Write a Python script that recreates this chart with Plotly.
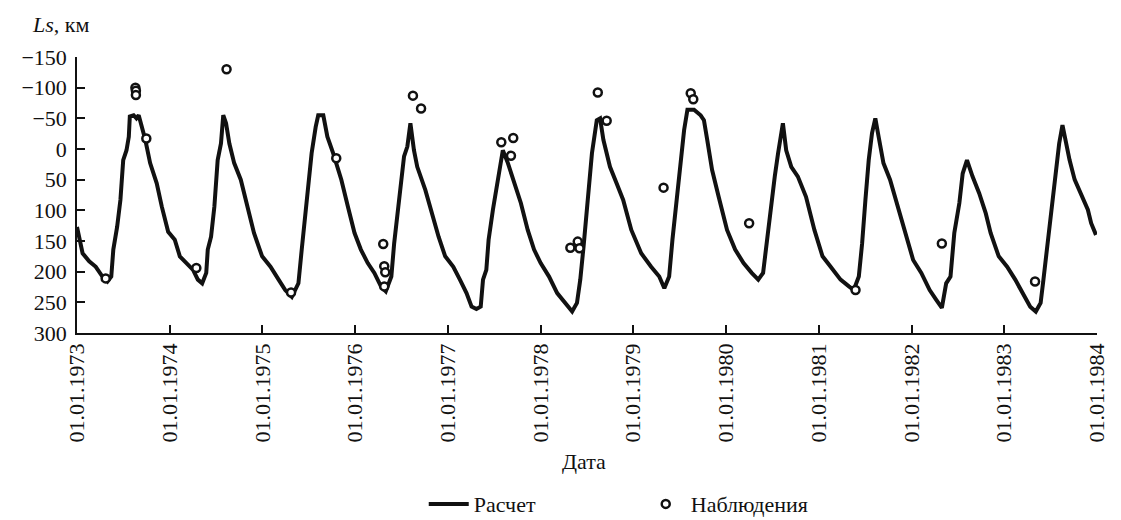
import plotly.graph_objects as go

# Calculated series (Расчет)
calc_dates = [
    "1973-01-01", "1973-01-23", "1973-02-18", "1973-03-16", "1973-04-11", "1973-05-01", "1973-05-16",
    "1973-05-24", "1973-06-08", "1973-06-21", "1973-07-02", "1973-07-15", "1973-07-24", "1973-07-28",
    "1973-08-12", "1973-08-23", "1973-09-01", "1973-09-10", "1973-09-27", "1973-10-16", "1973-11-11",
    "1973-12-01", "1973-12-26",
    "1974-01-21", "1974-02-10", "1974-03-08", "1974-04-03", "1974-04-22", "1974-05-09", "1974-05-25",
    "1974-05-31", "1974-06-13", "1974-06-26", "1974-07-09", "1974-07-22", "1974-07-31", "1974-08-11",
    "1974-08-24", "1974-09-12", "1974-10-08", "1974-10-28", "1974-11-29", "1974-12-31",
    "1975-02-02", "1975-03-06", "1975-04-01", "1975-04-27", "1975-05-23", "1975-06-05", "1975-06-25",
    "1975-07-14", "1975-07-30", "1975-08-09", "1975-08-29", "1975-09-14", "1975-10-07", "1975-11-08",
    "1975-12-04", "1975-12-30",
    "1976-01-24", "1976-02-20", "1976-03-17", "1976-04-12", "1976-05-01", "1976-05-23", "1976-06-03",
    "1976-06-22", "1976-07-12", "1976-07-25", "1976-08-06", "1976-08-20", "1976-09-02", "1976-10-04",
    "1976-11-06", "1976-11-25", "1976-12-21",
    "1977-01-22", "1977-02-17", "1977-03-15", "1977-04-04", "1977-04-23", "1977-05-10", "1977-05-19",
    "1977-06-01", "1977-06-10", "1977-06-27", "1977-07-17", "1977-08-05", "1977-08-25", "1977-09-19",
    "1977-10-15", "1977-11-11", "1977-12-06",
    "1978-01-01", "1978-02-03", "1978-03-07", "1978-04-09", "1978-05-05", "1978-05-24", "1978-06-06",
    "1978-06-19", "1978-07-08", "1978-07-22", "1978-08-10", "1978-08-23", "1978-09-05", "1978-10-01",
    "1978-10-27", "1978-11-22", "1978-12-24",
    "1979-02-01", "1979-03-12", "1979-04-13", "1979-05-03", "1979-05-22", "1979-06-04", "1979-06-24",
    "1979-07-07", "1979-07-20", "1979-08-02", "1979-08-28", "1979-09-23", "1979-10-06", "1979-10-19",
    "1979-11-07", "1979-12-03",
    "1980-01-05", "1980-02-06", "1980-03-10", "1980-04-11", "1980-05-07", "1980-05-26", "1980-06-08",
    "1980-06-21", "1980-07-11", "1980-07-24", "1980-08-12", "1980-08-25", "1980-09-14", "1980-10-10",
    "1980-11-11", "1980-12-14",
    "1981-01-15", "1981-02-16", "1981-03-27", "1981-04-29", "1981-05-18", "1981-06-07", "1981-06-20",
    "1981-07-03", "1981-07-16", "1981-07-29", "1981-08-11", "1981-08-24", "1981-09-12", "1981-10-08",
    "1981-11-03", "1981-12-05",
    "1982-01-07", "1982-02-08", "1982-03-13", "1982-04-08", "1982-04-30", "1982-05-17", "1982-06-03",
    "1982-06-18", "1982-07-08", "1982-07-21", "1982-08-07", "1982-08-29", "1982-09-24", "1982-10-20",
    "1982-11-08", "1982-12-10",
    "1983-01-12", "1983-02-13", "1983-03-18", "1983-04-13", "1983-05-05", "1983-05-24", "1983-06-04",
    "1983-06-17", "1983-07-06", "1983-07-23", "1983-08-05", "1983-08-18", "1983-09-15", "1983-10-05",
    "1983-10-24", "1983-11-26", "1983-12-09", "1983-12-28",
]
calc_values = [
    127, 170, 183, 192, 208, 216, 208,
    164, 127, 83, 18, 2, -20, -53,
    -55, -50, -55, -42, -15, 23, 56,
    94, 135,
    148, 175, 186, 197, 213, 219, 202,
    164, 143, 94, 18, -9, -55, -42,
    -9, 23, 50, 83, 137, 175,
    192, 213, 230, 241, 219, 164, 88,
    7, -36, -55, -55, -20, 7, 50,
    94, 137,
    164, 186, 202, 224, 232, 208, 154,
    78, 12, -4, -42, 2, 29, 67,
    116, 143, 175,
    192, 213, 235, 257, 261, 257, 213,
    197, 148, 99, 45, 2, 23, 56,
    88, 132, 164,
    186, 208, 235, 251, 265, 251, 213,
    159, 67, 7, -47, -50, -15, 29,
    56, 83, 132,
    170, 192, 208, 227, 208, 148, 72,
    18, -31, -64, -64, -55, -47, -15,
    34, 78,
    132, 164, 186, 202, 213, 202, 154,
    105, 45, 7, -42, 2, 29, 45,
    78, 132,
    175, 192, 213, 224, 230, 208, 154,
    83, 18, -26, -50, -20, 23, 50,
    88, 137,
    181, 202, 230, 246, 259, 219, 208,
    137, 88, 40, 18, 45, 72, 105,
    137, 175,
    192, 213, 238, 257, 265, 251, 213,
    164, 99, 34, -9, -39, 18, 50,
    67, 99, 121, 140,
]

# Observations (Наблюдения)
obs_dates = [
    "1973-04-24", "1973-08-19", "1973-08-21", "1973-08-21", "1973-10-01",
    "1974-04-16", "1974-08-13", "1975-04-24", "1975-10-19",
    "1976-04-21", "1976-04-25", "1976-04-29", "1976-04-25", "1976-08-16", "1976-09-17",
    "1977-07-30", "1977-09-15", "1977-09-06",
    "1978-04-28", "1978-05-27", "1978-06-03", "1978-08-14", "1978-09-18",
    "1979-04-30", "1979-08-15", "1979-08-25",
    "1980-04-01", "1981-05-25", "1982-04-30", "1983-05-02",
]
obs_values = [
    211, -100, -95, -88, -17,
    194, -130, 234, 15,
    155, 191, 201, 224, -87, -66,
    -11, -18, 11,
    161, 151, 162, -92, -46,
    63, -91, -81,
    121, 230, 154, 216,
]

tick_dates = [f"{y}-01-01" for y in range(1973, 1985)]
tick_labels = [f"01.01.{y}" for y in range(1973, 1985)]
y_ticks = [-150, -100, -50, 0, 50, 100, 150, 200, 250, 300]

FONT = "Liberation Serif"
FS = 22

fig = go.Figure()
fig.add_trace(go.Scatter(
    x=calc_dates, y=calc_values, mode="lines", name="Расчет",
    line=dict(color="#111111", width=4),
))
fig.add_trace(go.Scatter(
    x=obs_dates, y=obs_values, mode="markers", name="Наблюдения",
    marker=dict(symbol="circle", size=8, color="white",
                line=dict(color="#111111", width=2.5)),
))

fig.update_layout(
    width=1121, height=520,
    margin=dict(l=77, r=13, t=57, b=187),
    paper_bgcolor="white", plot_bgcolor="white",
    font=dict(family=FONT, size=FS, color="#111111"),
    showlegend=True,
    legend=dict(
        orientation="h", xref="container", yref="container",
        x=0.378, y=0.071, xanchor="left", yanchor="top",
        font=dict(family=FONT, size=FS, color="#111111"),
        entrywidth=162, entrywidthmode="pixels",
        itemwidth=40, bgcolor="rgba(0,0,0,0)",
        tracegroupgap=0,
    ),
    xaxis=dict(
        type="date",
        range=["1973-01-01", "1984-01-01"],
        tickmode="array", tickvals=tick_dates, ticktext=tick_labels,
        tickangle=-90,
        ticks="inside", ticklen=8, tickwidth=1.5, tickcolor="#111111",
        showline=True, linecolor="#111111", linewidth=1.5,
        showgrid=False, zeroline=False,
        tickfont=dict(family=FONT, size=FS, color="#111111"),
    ),
    yaxis=dict(
        range=[300, -150],
        tickmode="array", tickvals=y_ticks,
        ticks="inside", ticklen=8, tickwidth=1.5, tickcolor="#111111",
        showline=True, linecolor="#111111", linewidth=1.5,
        showgrid=False, zeroline=False,
        tickfont=dict(family=FONT, size=FS, color="#111111"),
        ticklabelstandoff=4,
    ),
    annotations=[
        dict(text="<i>Ls</i>, км", xref="paper", yref="paper",
             x=-0.0456, y=1.116, xanchor="left", yanchor="middle",
             showarrow=False, font=dict(family=FONT, size=FS, color="#111111")),
        dict(text="Дата", xref="paper", yref="paper",
             x=0.497, y=-0.467, xanchor="center", yanchor="middle",
             showarrow=False, font=dict(family=FONT, size=FS, color="#111111")),
    ],
)

fig.write_html(
    "out.html",
    config={"displayModeBar": False},
    post_script="document.body.style.margin='0';document.body.style.overflow='hidden';",
)
